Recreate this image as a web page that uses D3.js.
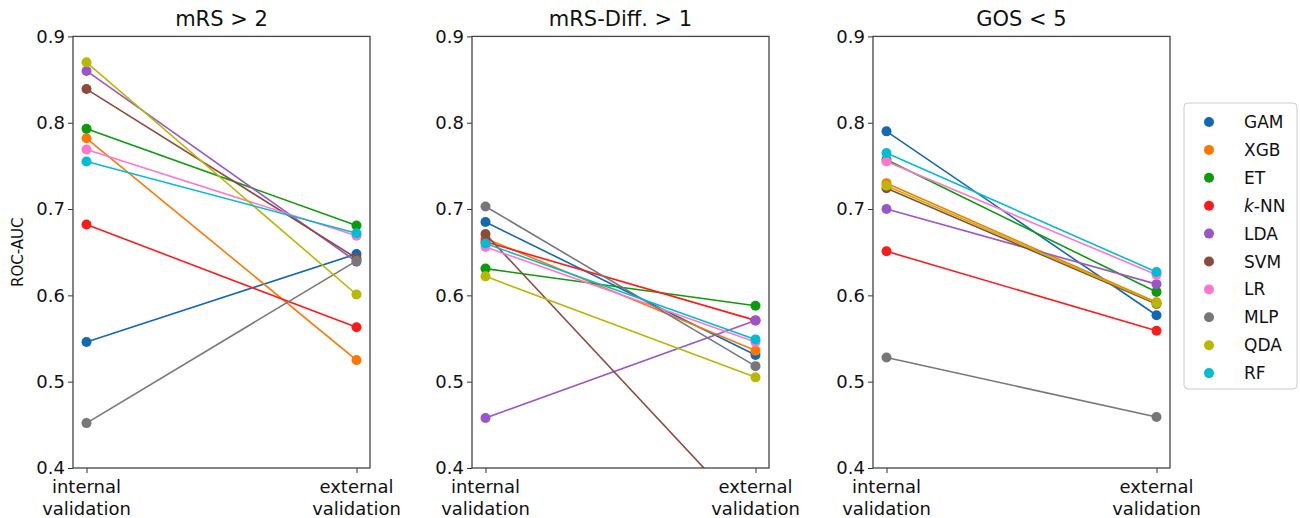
<!DOCTYPE html>
<html>
<head>
<meta charset="utf-8">
<script src="https://cdn.jsdelivr.net/npm/d3@7"></script>
<style>
  body { margin: 0; background: #fff; }
  svg text { font-family: "DejaVu Sans", sans-serif; fill: #111; }
</style>
</head>
<body>
<div id="chart"></div>
<script>
// models, in plotting order
var models = ["GAM", "XGB", "ET", "k-NN", "LDA", "SVM", "LR", "MLP", "QDA", "RF"]
var colors = ["#1368b4", "#ff7700", "#0b9b0b", "#ff1a1a", "#9a55c8", "#8c4a3c", "#ff77cc", "#777777", "#b8b800", "#00bcd4"]
var panelTitles = ["mRS > 2", "mRS-Diff. > 1", "GOS < 5"]
var xLabels = [["internal", "validation"], ["external", "validation"]]
var yTicks = [0.4, 0.5, 0.6, 0.7, 0.8, 0.9]

// [internal, external] ROC-AUC per model
var mrs2 = [[0.546, 0.648], [0.782, 0.525], [0.793, 0.681], [0.682, 0.563], [0.860, 0.639],
            [0.839, 0.643], [0.769, 0.669], [0.452, 0.640], [0.870, 0.601], [0.755, 0.672]]
var mrsDiff = [[0.685, 0.531], [0.666, 0.536], [0.631, 0.588], [0.662, 0.571], [0.458, 0.571],
               [0.671, 0.336], [0.656, 0.546], [0.703, 0.518], [0.622, 0.505], [0.660, 0.549]]
var gos5 = [[0.790, 0.577], [0.730, 0.592], [0.757, 0.604], [0.651, 0.559], [0.700, 0.613],
            [0.724, 0.590], [0.755, 0.624], [0.528, 0.459], [0.727, 0.591], [0.765, 0.627]]
var panelData = [mrs2, mrsDiff, gos5]

var width = 1300, height = 518
var panelLeft = [73, 472, 873]
var panelW = 297
var plotTop = 36.4, plotBottom = 468

var svg = d3.select("#chart").append("svg")
    .attr("width", width)
    .attr("height", height)

var yScale = d3.scaleLinear().domain([0.4, 0.9]).range([plotBottom, plotTop])

panelData.forEach(function (data, p) {
    var x0 = panelLeft[p]
    var xScale = d3.scaleLinear()
        .domain([-0.05, 1.05])
        .range([x0, x0 + panelW])

    var g = svg.append("g")

    g.append("clipPath").attr("id", "clip" + p)
        .append("rect")
        .attr("x", x0).attr("y", plotTop)
        .attr("width", panelW).attr("height", plotBottom - plotTop)

    var plot = g.append("g").attr("clip-path", "url(#clip" + p + ")")

    data.forEach(function (vals, i) {
        var s = plot.append("g")
        s.append("path")
            .datum(vals)
            .attr("fill", "none")
            .attr("stroke", colors[i])
            .attr("stroke-width", 1.6)
            .attr("d", d3.line().x((d, j) => xScale(j)).y(d => yScale(d)))
        s.selectAll("circle")
            .data(vals)
            .enter().append("circle")
            .attr("cx", (d, j) => xScale(j))
            .attr("cy", d => yScale(d))
            .attr("r", 5)
            .attr("fill", colors[i])
    })

    // y axis
    var yAxis = d3.axisLeft(yScale).tickValues(yTicks).tickFormat(d3.format(".1f")).tickSizeOuter(0).tickSize(5)
    var ya = g.append("g")
        .attr("transform", "translate(" + x0 + ",0)")
        .call(yAxis)
    ya.select(".domain").remove()
    ya.selectAll("line").attr("stroke", "#333")
    ya.selectAll("text").attr("font-size", 18).attr("x", -8).style("fill", "#111")

    // x axis
    var xAxis = d3.axisBottom(xScale).tickValues([0, 1]).tickFormat("").tickSizeOuter(0).tickSize(5)
    var xa = g.append("g")
        .attr("transform", "translate(0," + plotBottom + ")")
        .call(xAxis)
    xa.select(".domain").remove()
    xa.selectAll("line").attr("stroke", "#333")

    xLabels.forEach(function (lbl, j) {
        var t = g.append("text")
            .attr("x", xScale(j))
            .attr("y", plotBottom + 25)
            .attr("text-anchor", "middle")
            .attr("font-size", 18)
        lbl.forEach(function (line, k) {
            t.append("tspan").attr("x", xScale(j)).attr("dy", k === 0 ? 0 : 22).text(line)
        })
    })

    // frame
    g.append("rect")
        .attr("x", x0).attr("y", plotTop)
        .attr("width", panelW).attr("height", plotBottom - plotTop)
        .attr("fill", "none")
        .attr("stroke", "#444")
        .attr("stroke-width", 1.3)

    g.append("text")
        .attr("x", x0 + panelW / 2)
        .attr("y", plotTop - 10)
        .attr("text-anchor", "middle")
        .attr("font-size", 21)
        .text(panelTitles[p])
})

svg.append("text")
    .attr("transform", "translate(23," + ((plotTop + plotBottom) / 2) + ") rotate(-90)")
    .attr("text-anchor", "middle")
    .attr("font-size", 15)
    .text("ROC-AUC")

// legend
var legend = svg.append("g")
legend.append("rect")
    .attr("x", 1184).attr("y", 103)
    .attr("width", 113).attr("height", 286)
    .attr("rx", 4)
    .attr("fill", "#fff")
    .attr("stroke", "#ccc")

models.forEach(function (m, i) {
    var y = 122 + i * 27.9
    legend.append("circle")
        .attr("cx", 1209).attr("cy", y)
        .attr("r", 5)
        .attr("fill", colors[i])
    var t = legend.append("text")
        .attr("x", 1244).attr("y", y + 6)
        .attr("font-size", 17)
    if (m === "k-NN") {
        t.append("tspan").attr("font-style", "italic").text("k")
        t.append("tspan").text("-NN")
    } else {
        t.text(m)
    }
})
</script>
</body>
</html>
